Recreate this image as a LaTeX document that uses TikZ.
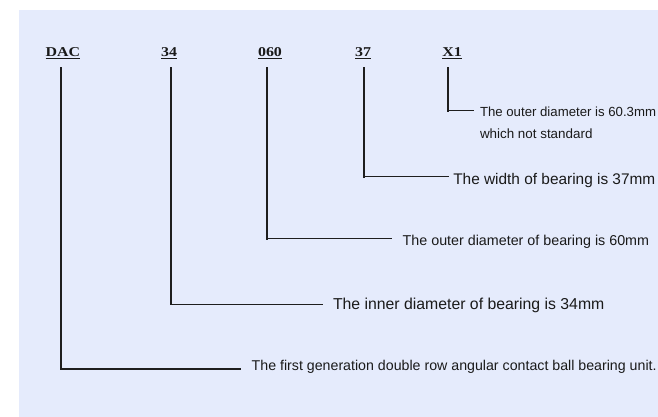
\documentclass[tikz,border=0pt]{standalone}
\usepackage{fontspec}
\setmainfont{Liberation Sans}
\newfontfamily\lblfont[FakeStretch=1.18]{Liberation Serif}
\newfontfamily\txtfont{Liberation Sans}
\definecolor{bgblue}{RGB}{229,235,252}
\definecolor{inkline}{RGB}{30,30,30}
\definecolor{inktext}{RGB}{26,26,26}
\tikzset{
  codelbl/.style={anchor=base, inner xsep=0pt, inner ysep=11.8pt, outer sep=0pt, text depth=0pt,
    font=\lblfont\bfseries\fontsize{13.5}{15}\selectfont, text=inktext},
  desc/.style={anchor=base west, inner sep=0pt, outer sep=0pt, text=inktext},
  vline/.style={draw=inkline, line width=2pt, line cap=rect},
  hline/.style={draw=inkline, line width=1.3pt, line cap=rect},
}
\begin{document}
\begin{tikzpicture}[x=1pt, y=-1pt]
\useasboundingbox (0,0) rectangle (658,417);
\fill[bgblue] (19,10) rectangle (660,419);

% code labels
\node[codelbl] (lDAC) at (62.8,56.7) {\underline{DAC}};
\node[codelbl] (l34)  at (169,56.7)  {\underline{34}};
\node[codelbl] (l060) at (270,56.7)  {\underline{060}};
\node[codelbl] (l37)  at (363,56.7)  {\underline{37}};
\node[codelbl] (lX1)  at (452,56.7)  {\underline{X1}};

% corners and line ends
\coordinate (cDAC) at (60.5,369);
\coordinate (eDAC) at (240,369);
\coordinate (c34)  at (170.7,304.3);
\coordinate (e34)  at (322,304.3);
\coordinate (c060) at (266.7,238.5);
\coordinate (e060) at (391.7,238.5);
\coordinate (c37)  at (364.3,176.5);
\coordinate (e37)  at (448,176.5);
\coordinate (cX1)  at (447.5,110.7);
\coordinate (eX1)  at (473.5,110.7);

% descriptions
\node[desc, font=\txtfont\fontsize{14.2}{16}\selectfont] (tDAC) at (251.7,370.7)
  {The first generation double row angular contact ball bearing unit.};
\node[desc, font=\txtfont\fontsize{15.8}{18}\selectfont] (t34) at (333,309.3)
  {The inner diameter of bearing is 34mm};
\node[desc, font=\txtfont\fontsize{14.3}{16}\selectfont] (t060) at (402.7,245.7)
  {The outer diameter of bearing is 60mm};
\node[desc, font=\txtfont\fontsize{15.4}{18}\selectfont] (t37) at (453.3,184.3)
  {The width of bearing is 37mm};
\node[desc, font=\txtfont\fontsize{13.2}{16}\selectfont] (tX1a) at (480,116.7)
  {The outer diameter is 60.3mm};
\node[desc, font=\txtfont\fontsize{13.4}{16}\selectfont] (tX1b) at (480,138.2)
  {which not standard};

% connectors
\draw[vline] (lDAC.south -| cDAC) -- (cDAC);
\draw[hline] (cDAC) -- (eDAC);
\draw[vline] (l34.south -| c34) -- (c34);
\draw[hline] (c34) -- (e34);
\draw[vline] (l060.south -| c060) -- (c060);
\draw[hline] (c060) -- (e060);
\draw[vline] (l37.south -| c37) -- (c37);
\draw[hline] (c37) -- (e37);
\draw[vline] (lX1.south -| cX1) -- (cX1);
\draw[hline] (cX1) -- (eX1);
\end{tikzpicture}
\end{document}
